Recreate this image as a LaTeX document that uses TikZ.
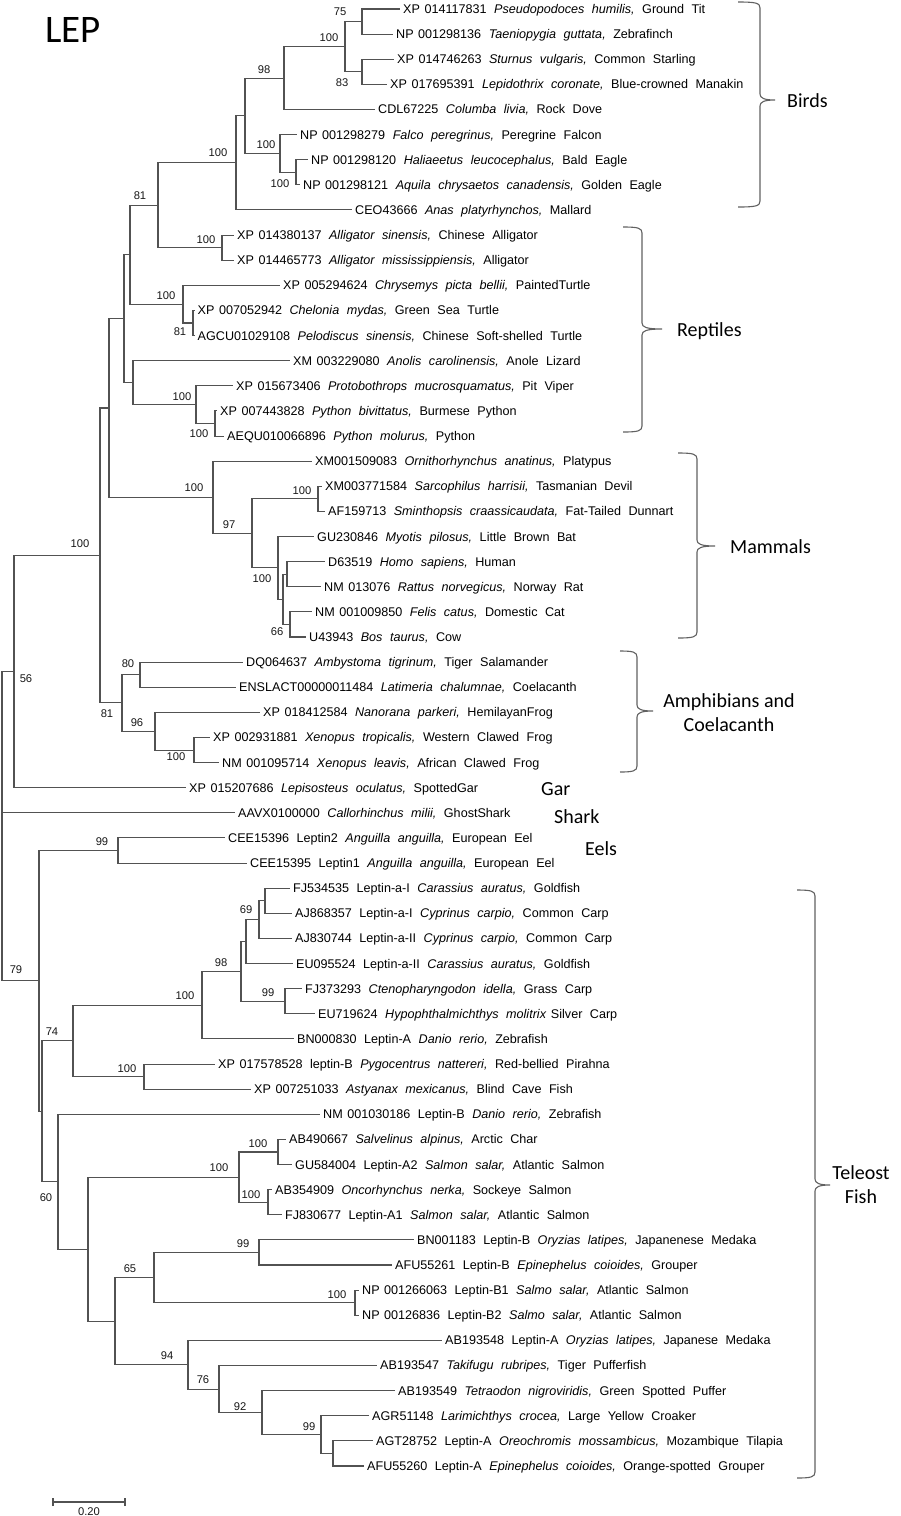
\documentclass[tikz,border=0pt]{standalone}
\usepackage{fontspec}
\setmainfont{Liberation Sans}
\newfontfamily\lff{Liberation Sans}[WordSpace={2.14,0,0}]
\newfontfamily\calib{Carlito}
\newcommand\mysp{\hspace{4.5pt}}
\newcommand\leaffont{\lff\fontsize{12.6}{14}\selectfont}
\newcommand\brk[6]{%
 \draw[brace] (#1,#4) .. controls (#2-4,#4) and (#2,#4+1) .. (#2,#4+6) -- (#2,#5-6)
   .. controls (#2,#5-2) and (#2+4,#5) .. (#3,#5)
   .. controls (#2+4,#5) and (#2,#5+2) .. (#2,#5+6) -- (#2,#6-6)
   .. controls (#2,#6-1) and (#2-4,#6) .. (#1,#6);}
\tikzset{
 br/.style={draw=black!68, line width=1.05pt},
 leaf/.style={anchor=west, inner xsep=3pt, inner ysep=0pt, text height=9pt, text depth=0pt, font=\leaffont, text=black},
 bs/.style={inner sep=0pt, font=\fontsize{11.2}{13}\selectfont, text=black!90},
 grp/.style={inner sep=0pt, font=\calib\fontsize{20}{23.5}\selectfont, text=black},
 brace/.style={draw=black!62, line width=1.1pt},
}
\begin{document}
\begin{tikzpicture}[x=1pt,y=-1pt]
\fill[white] (0,0) rectangle (901,1516);
\useasboundingbox (0,0) rectangle (901,1516);

\node[anchor=base west, inner sep=0pt, font=\calib\fontsize{39}{44}\selectfont] (title) at (45,42) {LEP};

% leaves
\node[leaf] (l0) at (400,9) {XP\mysp 014117831 \textit{Pseudopodoces humilis,} Ground Tit};
\node[leaf] (l1) at (393,34.12) {NP\mysp 001298136 \textit{Taeniopygia guttata,} Zebrafinch};
\node[leaf] (l2) at (394,59.24) {XP\mysp 014746263 \textit{Sturnus vulgaris,} Common Starling};
\node[leaf] (l3) at (387,84.36) {XP\mysp 017695391 \textit{Lepidothrix coronate,} Blue-crowned Manakin};
\node[leaf] (l4) at (375,109.48) {CDL67225 \textit{Columba livia,} Rock Dove};
\node[leaf] (l5) at (297,134.6) {NP\mysp 001298279 \textit{Falco peregrinus,} Peregrine Falcon};
\node[leaf] (l6) at (308,159.72) {NP\mysp 001298120 \textit{Haliaeetus leucocephalus,} Bald Eagle};
\node[leaf] (l7) at (300,184.84) {NP\mysp 001298121 \textit{Aquila chrysaetos canadensis,} Golden Eagle};
\node[leaf] (l8) at (352,209.96) {CEO43666 \textit{Anas platyrhynchos,} Mallard};
\node[leaf] (l9) at (234,235.08) {XP\mysp 014380137 \textit{Alligator sinensis,} Chinese Alligator};
\node[leaf] (l10) at (234,260.2) {XP\mysp 014465773 \textit{Alligator mississippiensis,} Alligator};
\node[leaf] (l11) at (280,285.32) {XP\mysp 005294624 \textit{Chrysemys picta bellii,} PaintedTurtle};
\node[leaf] (l12) at (194.5,310.44) {XP\mysp 007052942 \textit{Chelonia mydas,} Green Sea Turtle};
\node[leaf] (l13) at (194.5,335.56) {AGCU01029108 \textit{Pelodiscus sinensis,} Chinese Soft-shelled Turtle};
\node[leaf] (l14) at (290,360.68) {XM\mysp 003229080 \textit{Anolis carolinensis,} Anole Lizard};
\node[leaf] (l15) at (233,385.8) {XP\mysp 015673406 \textit{Protobothrops mucrosquamatus,} Pit Viper};
\node[leaf] (l16) at (217,410.92) {XP\mysp 007443828 \textit{Python bivittatus,} Burmese Python};
\node[leaf] (l17) at (224,436.04) {AEQU010066896 \textit{Python molurus,} Python};
\node[leaf] (l18) at (312,461.16) {XM001509083 \textit{Ornithorhynchus anatinus,} Platypus};
\node[leaf] (l19) at (322,486.28) {XM003771584 \textit{Sarcophilus harrisii,} Tasmanian Devil};
\node[leaf] (l20) at (325,511.4) {AF159713 \textit{Sminthopsis craassicaudata,} Fat-Tailed Dunnart};
\node[leaf] (l21) at (314,536.52) {GU230846 \textit{Myotis pilosus,} Little Brown Bat};
\node[leaf] (l22) at (325,561.64) {D63519 \textit{Homo sapiens,} Human};
\node[leaf] (l23) at (321,586.76) {NM\mysp 013076 \textit{Rattus norvegicus,} Norway Rat};
\node[leaf] (l24) at (312,611.88) {NM\mysp 001009850 \textit{Felis catus,} Domestic Cat};
\node[leaf] (l25) at (306,637) {U43943 \textit{Bos taurus,} Cow};
\node[leaf] (l26) at (243,662.12) {DQ064637 \textit{Ambystoma tigrinum,} Tiger Salamander};
\node[leaf] (l27) at (236,687.24) {ENSLACT00000011484 \textit{Latimeria chalumnae,} Coelacanth};
\node[leaf] (l28) at (260,712.36) {XP\mysp 018412584 \textit{Nanorana parkeri,} HemilayanFrog};
\node[leaf] (l29) at (210,737.48) {XP\mysp 002931881 \textit{Xenopus tropicalis,} Western Clawed Frog};
\node[leaf] (l30) at (219,762.6) {NM\mysp 001095714 \textit{Xenopus leavis,} African Clawed Frog};
\node[leaf] (l31) at (186,787.72) {XP\mysp 015207686 \textit{Lepisosteus oculatus,} SpottedGar};
\node[leaf] (l32) at (235,812.84) {AAVX0100000 \textit{Callorhinchus milii,} GhostShark};
\node[leaf] (l33) at (225,837.96) {CEE15396 Leptin2 \textit{Anguilla anguilla,} European Eel};
\node[leaf] (l34) at (247,863.08) {CEE15395 Leptin1 \textit{Anguilla anguilla,} European Eel};
\node[leaf] (l35) at (290,888.2) {FJ534535 Leptin-a-I \textit{Carassius auratus,} Goldfish};
\node[leaf] (l36) at (292,913.32) {AJ868357 Leptin-a-I \textit{Cyprinus carpio,} Common Carp};
\node[leaf] (l37) at (292,938.44) {AJ830744 Leptin-a-II \textit{Cyprinus carpio,} Common Carp};
\node[leaf] (l38) at (293,963.56) {EU095524 Leptin-a-II \textit{Carassius auratus,} Goldfish};
\node[leaf] (l39) at (302,988.68) {FJ373293 \textit{Ctenopharyngodon idella,} Grass Carp};
\node[leaf] (l40) at (315,1013.8) {EU719624 \textit{Hypophthalmichthys molitrix}\mysp Silver Carp};
\node[leaf] (l41) at (294,1038.92) {BN000830 Leptin-A \textit{Danio rerio,} Zebrafish};
\node[leaf] (l42) at (215,1064.04) {XP\mysp 017578528 leptin-B \textit{Pygocentrus nattereri,} Red-bellied Pirahna};
\node[leaf] (l43) at (251,1089.16) {XP\mysp 007251033 \textit{Astyanax mexicanus,} Blind Cave Fish};
\node[leaf] (l44) at (320,1114.28) {NM\mysp 001030186 Leptin-B \textit{Danio rerio,} Zebrafish};
\node[leaf] (l45) at (286,1139.4) {AB490667 \textit{Salvelinus alpinus,} Arctic Char};
\node[leaf] (l46) at (292,1164.52) {GU584004 Leptin-A2 \textit{Salmon salar,} Atlantic Salmon};
\node[leaf] (l47) at (272,1189.64) {AB354909 \textit{Oncorhynchus nerka,} Sockeye Salmon};
\node[leaf] (l48) at (282,1214.76) {FJ830677 Leptin-A1 \textit{Salmon salar,} Atlantic Salmon};
\node[leaf] (l49) at (414,1239.88) {BN001183 Leptin-B \textit{Oryzias latipes,} Japanenese Medaka};
\node[leaf] (l50) at (392,1265) {AFU55261 Leptin-B \textit{Epinephelus coioides,} Grouper};
\node[leaf] (l51) at (359,1290.12) {NP\mysp 001266063 Leptin-B1 \textit{Salmo salar,} Atlantic Salmon};
\node[leaf] (l52) at (359,1315.24) {NP\mysp 00126836 Leptin-B2 \textit{Salmo salar,} Atlantic Salmon};
\node[leaf] (l53) at (442,1340.36) {AB193548 Leptin-A \textit{Oryzias latipes,} Japanese Medaka};
\node[leaf] (l54) at (377,1365.48) {AB193547 \textit{Takifugu rubripes,} Tiger Pufferfish};
\node[leaf] (l55) at (395,1390.6) {AB193549 \textit{Tetraodon nigroviridis,} Green Spotted Puffer};
\node[leaf] (l56) at (369,1415.72) {AGR51148 \textit{Larimichthys crocea,} Large Yellow Croaker};
\node[leaf] (l57) at (373,1440.84) {AGT28752 Leptin-A \textit{Oreochromis mossambicus,} Mozambique Tilapia};
\node[leaf] (l58) at (364,1465.96) {AFU55260 Leptin-A \textit{Epinephelus coioides,} Orange-spotted Grouper};

% internal nodes
\foreach \n/\x/\y in {AK/362/21.56, AL/362/71.8, AJ/345/46.68, AH/284/78.08, AM/296/172.28,
  AI/280/153.44, AG/245/115.76, AF/236/162.86, ALG/222/247.64, AD/158/205.25, AN/193/323,
  AE/183/304.16, AB/130/254.7, AP/215/423.48, AO/196/404.64, AC/133/382.66, AA/124/318.68,
  AR/318/498.84, AU/287/574.2, AV/290/624.44, AT/283/599.32, AS/278/567.92, AQ/252/533.38,
  MAM/213/497.27, Y/109/407.98, BA/140/674.68, BC/194/750.04, BB/155/731.2, Z/122/702.94,
  X/100/555.46, A/14/671.59, EEL/118/850.52, U/265/900.76, V/259/919.6, S/246/941.58,
  T/285/1001.24, R/241/971.41, Q/202/1005.17, W/144/1076.6, D/73/1040.88, G1/278/1151.96,
  G2/268/1202.2, G/239/1177.08, K/259/1252.44, L/355/1302.68, I/154/1277.56, P/333/1453.4,
  O/321/1434.56, N/262/1412.58, M/219/1389.03, J/188/1364.7, H/115/1321.13, F/88/1249.1,
  E/58/1181.69, C/42/1111.29, B/39/980.9, root/2/826.2}
  \coordinate (n\n) at (\x,\y);

% branches
\foreach \p/\c in {nAK/l0.west, nAK/l1.west, nAL/l2.west, nAL/l3.west, nAJ/nAK, nAJ/nAL,
  nAH/nAJ, nAH/l4.west, nAM/l6.west, nAM/l7.west, nAI/l5.west, nAI/nAM, nAG/nAH, nAG/nAI,
  nAF/nAG, nAF/l8.west, nALG/l9.west, nALG/l10.west, nAD/nAF, nAD/nALG, nAN/l12.west,
  nAN/l13.west, nAE/l11.west, nAE/nAN, nAB/nAD, nAB/nAE, nAP/l16.west, nAP/l17.west,
  nAO/l15.west, nAO/nAP, nAC/l14.west, nAC/nAO, nAA/nAB, nAA/nAC, nAR/l19.west, nAR/l20.west,
  nAU/l22.west, nAU/l23.west, nAV/l24.west, nAV/l25.west, nAT/nAU, nAT/nAV, nAS/l21.west,
  nAS/nAT, nAQ/nAR, nAQ/nAS, nMAM/l18.west, nMAM/nAQ, nY/nAA, nY/nMAM, nBA/l26.west,
  nBA/l27.west, nBC/l29.west, nBC/l30.west, nBB/l28.west, nBB/nBC, nZ/nBA, nZ/nBB, nX/nY,
  nX/nZ, nA/nX, nA/l31.west, nEEL/l33.west, nEEL/l34.west, nU/l35.west, nU/l36.west, nV/nU,
  nV/l37.west, nS/nV, nS/l38.west, nT/l39.west, nT/l40.west, nR/nS, nR/nT, nQ/nR, nQ/l41.west,
  nW/l42.west, nW/l43.west, nD/nQ, nD/nW, nG1/l45.west, nG1/l46.west, nG2/l47.west,
  nG2/l48.west, nG/nG1, nG/nG2, nK/l49.west, nK/l50.west, nL/l51.west, nL/l52.west, nI/nK,
  nI/nL, nP/l57.west, nP/l58.west, nO/l56.west, nO/nP, nN/l55.west, nN/nO, nM/l54.west,
  nM/nN, nJ/l53.west, nJ/nM, nH/nI, nH/nJ, nF/nG, nF/nH, nE/l44.west, nE/nF, nC/nD, nC/nE,
  nB/nEEL, nB/nC, nroot/nA, nroot/l32.west, nroot/nB}
  \draw[br] (\p) |- (\c);

% bootstrap values
\foreach \n/\t/\x/\y in {1/75/340/12, 2/83/342/83, 3/100/329/38, 4/98/264/70, 5/100/266/145,
  6/100/280/184, 7/100/218/153, 8/81/140/196, 9/100/206/240, 10/100/166/296, 11/81/180/332,
  12/100/182/397, 13/100/199/434, 14/100/80/544, 15/100/194/488, 16/100/302/491, 17/97/229/525,
  18/100/262/579, 19/66/277/632, 20/80/128/664, 21/81/107/714, 22/96/137/723, 23/100/176/757,
  24/56/26/679, 25/99/102/842, 26/79/16/970, 27/69/246/910, 28/98/221/963, 29/99/268/993,
  30/100/185/996, 31/74/52/1032, 32/100/127/1069, 33/60/46/1198, 34/100/219/1168,
  35/100/258/1144, 36/100/251/1195, 37/99/243/1244, 38/65/130/1269, 39/100/337/1295,
  40/94/167/1356, 41/76/203/1380, 42/92/240/1407, 43/99/309/1427}
  \node[bs] (b\n) at (\x,\y) {\t};

% brackets and group labels
\brk{738}{760}{775}{2}{100}{207}
\brk{623}{642}{662}{227}{329}{432}
\brk{678}{697}{715}{453}{546}{638}
\brk{620}{637}{653}{651}{711}{772}
\brk{797}{815}{830}{890}{1185}{1478}
\node[grp, anchor=base west] (gBirds) at (787,107) {Birds};
\node[grp, anchor=base west] (gRept) at (677,336) {Reptiles};
\node[grp, anchor=base west] (gMam) at (730,553) {Mammals};
\node[grp, anchor=base] (gAmph1) at (729,707) {Amphibians and};
\node[grp, anchor=base] (gAmph2) at (729,731) {Coelacanth};
\node[grp, anchor=base west] (gGar) at (541,795) {Gar};
\node[grp, anchor=base west] (gShark) at (554,823) {Shark};
\node[grp, anchor=base west] (gEels) at (585,855) {Eels};
\node[grp, anchor=base] (gTel1) at (861,1179) {Teleost};
\node[grp, anchor=base] (gTel2) at (861,1203) {Fish};

% scale bar
\coordinate (sb1) at (53,1502);
\coordinate (sb2) at (125,1502);
\draw[br] (sb1) -- (sb2);
\draw[br] ([yshift=-4pt]sb1) -- ([yshift=4pt]sb1);
\draw[br] ([yshift=-4pt]sb2) -- ([yshift=4pt]sb2);
\node[bs] (sbl) at (89,1512) {0.20};
\end{tikzpicture}
\end{document}
